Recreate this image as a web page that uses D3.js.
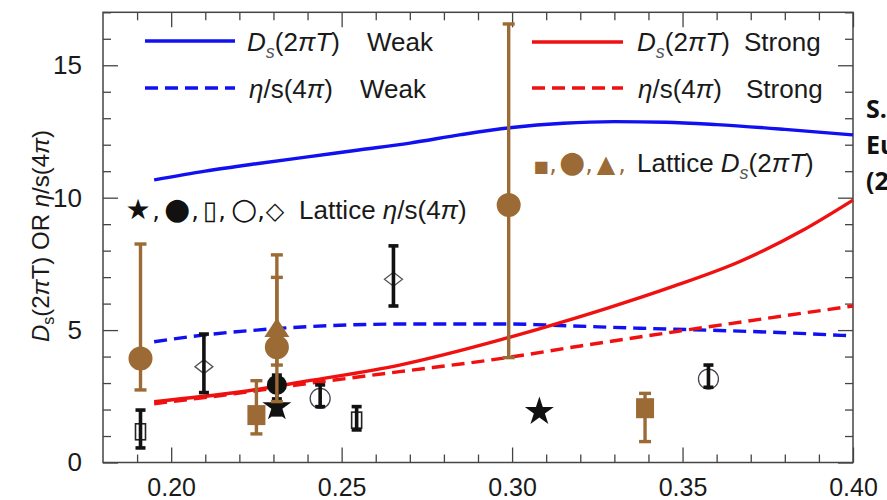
<!DOCTYPE html>
<html><head><meta charset="utf-8">
<script src="https://cdn.jsdelivr.net/npm/d3@7"></script>
<style>
body{margin:0;background:#fff}
svg{display:block}
text{font-family:"Liberation Sans",Arial,sans-serif;fill:#1a1a1a}
</style>
</head><body>
<svg id="c" width="887" height="500"></svg>
<script>
// ---------------- data ----------------
const xMajorTicks = [0.20, 0.25, 0.30, 0.35, 0.40];
const xTickLabels = ["0.20", "0.25", "0.30", "0.35", "0.40"];
const yMajorTicks = [0, 5, 10, 15];
const yTickLabels = ["0", "5", "10", "15"];

// theory curves (T in GeV)
const dsWeakT = [0.195, 0.21, 0.225, 0.24, 0.255, 0.27, 0.285, 0.30, 0.315, 0.33, 0.345, 0.36, 0.38, 0.40];
const dsWeakV = [10.67, 11.00, 11.28, 11.54, 11.80, 12.06, 12.38, 12.65, 12.81, 12.87, 12.85, 12.76, 12.58, 12.37];

const etaWeakT = [0.195, 0.21, 0.225, 0.24, 0.27, 0.30, 0.31, 0.3375, 0.357, 0.38, 0.40];
const etaWeakV = [4.56, 4.82, 5.00, 5.13, 5.23, 5.23, 5.19, 5.07, 5.00, 4.90, 4.78];

const dsStrongT = [0.195, 0.22, 0.24, 0.267, 0.2965, 0.308, 0.328, 0.347, 0.367, 0.385, 0.40];
const dsStrongV = [2.30, 2.66, 3.08, 3.68, 4.63, 5.05, 5.83, 6.64, 7.60, 8.75, 9.91];

const etaStrongT = [0.195, 0.22, 0.24, 0.267, 0.297, 0.32, 0.35, 0.375, 0.40];
const etaStrongV = [2.22, 2.62, 2.98, 3.43, 3.93, 4.40, 4.98, 5.45, 5.91];

// lattice D_s(2piT) points (brown)
const latDsT     = [0.191, 0.225, 0.231, 0.231, 0.299, 0.339];
const latDsV     = [3.93, 1.79, 5.08, 4.35, 9.72, 2.05];
const latDsLo    = [2.74, 1.08, 3.68, 2.30, 3.96, 0.79];
const latDsHi    = [8.25, 3.09, 7.84, 6.99, 16.56, 2.61];
const latDsShape = ["circle", "square", "triangle", "circle", "circle", "square"];

// lattice eta/s(4pi) points (black)
const latEtaT     = [0.191, 0.2096, 0.231, 0.231, 0.2437, 0.2544, 0.2652, 0.308, 0.3576];
const latEtaV     = [1.16, 3.62, 2.93, 2.10, 2.42, 1.60, 6.92, 1.92, 3.15];
const latEtaLo    = [0.55, 2.64, 2.20, 1.80, 2.11, 1.23, 5.91, null, 2.84];
const latEtaHi    = [1.98, 4.85, 3.30, 2.40, 2.93, 2.11, 8.18, null, 3.68];
const latEtaShape = ["rect", "diamond", "fcircle", "star", "ocircle", "rect", "diamond", "star", "ocircle"];

// ---------------- drawing ----------------
const BLUE = "#1010f0", RED = "#f01010", BROWN = "#9c6b35", INK = "#111";
const SYMFONT = '"DejaVu Sans",sans-serif';
const svg = d3.select("#c");
const L = 103, R = 853, T = 12.3, B = 462.5;
const x = d3.scaleLinear().domain([0.18, 0.40]).range([L, R]);
const y = d3.scaleLinear().domain([0, 17]).range([B, T]);

const xMinor = d3.range(0.19, 0.4001, 0.01).filter(v => !xMajorTicks.some(m => Math.abs(m - v) < 1e-6));
const yMinor = d3.range(1, 17.001, 1).filter(v => v % 5 !== 0);

function styleAxis(g) {
  g.select(".domain").remove();
  g.selectAll("line").attr("stroke", "#444").attr("stroke-width", 1.3);
}
// bottom
svg.append("g").attr("transform", `translate(0,${B})`)
  .call(d3.axisBottom(x).tickValues(xMajorTicks).tickSize(-15).tickPadding(16)
    .tickFormat((d, i) => xTickLabels[i]))
  .call(styleAxis)
  .call(g => g.selectAll("text").attr("font-size", 25).attr("dy", "0.71em"));
svg.append("g").attr("transform", `translate(0,${B})`)
  .call(d3.axisBottom(x).tickValues(xMinor).tickSize(-8).tickFormat(""))
  .call(styleAxis);
// top
svg.append("g").attr("transform", `translate(0,${T})`)
  .call(d3.axisTop(x).tickValues(xMajorTicks).tickSize(-15).tickFormat(""))
  .call(styleAxis);
svg.append("g").attr("transform", `translate(0,${T})`)
  .call(d3.axisTop(x).tickValues(xMinor).tickSize(-8).tickFormat(""))
  .call(styleAxis);
// left
svg.append("g").attr("transform", `translate(${L},0)`)
  .call(d3.axisLeft(y).tickValues(yMajorTicks).tickSize(-15).tickPadding(21)
    .tickFormat((d, i) => yTickLabels[i]))
  .call(styleAxis)
  .call(g => g.selectAll("text").attr("font-size", 26));
svg.append("g").attr("transform", `translate(${L},0)`)
  .call(d3.axisLeft(y).tickValues(yMinor).tickSize(-8).tickFormat(""))
  .call(styleAxis);
// right
svg.append("g").attr("transform", `translate(${R},0)`)
  .call(d3.axisRight(y).tickValues(yMajorTicks).tickSize(-15).tickFormat(""))
  .call(styleAxis);
svg.append("g").attr("transform", `translate(${R},0)`)
  .call(d3.axisRight(y).tickValues(yMinor).tickSize(-8).tickFormat(""))
  .call(styleAxis);

// frame
svg.append("rect").attr("x", L).attr("y", T).attr("width", R - L).attr("height", B - T)
  .attr("fill", "none").attr("stroke", "#444").attr("stroke-width", 1.5);

// curves
const line = d3.line().x(d => x(d[0])).y(d => y(d[1])).curve(d3.curveMonotoneX);
function curve(ts, vs, color, dashed) {
  svg.append("path").datum(ts.map((t, i) => [t, vs[i]]))
    .attr("d", line).attr("fill", "none").attr("stroke", color)
    .attr("stroke-width", 3.4).attr("stroke-dasharray", dashed ? "13,7" : null);
}
curve(dsWeakT, dsWeakV, BLUE, false);
curve(etaWeakT, etaWeakV, BLUE, true);
curve(dsStrongT, dsStrongV, RED, false);
curve(etaStrongT, etaStrongV, RED, true);

// error bars
function errBar(t, lo, hi, color, w, cap) {
  if (lo == null) return;
  const g = svg.append("g").attr("stroke", color).attr("stroke-width", w);
  g.append("line").attr("x1", x(t)).attr("x2", x(t)).attr("y1", y(lo)).attr("y2", y(hi));
  g.append("line").attr("x1", x(t) - cap).attr("x2", x(t) + cap).attr("y1", y(lo)).attr("y2", y(lo));
  g.append("line").attr("x1", x(t) - cap).attr("x2", x(t) + cap).attr("y1", y(hi)).attr("y2", y(hi));
}

// lattice eta/s (black) markers
latEtaT.forEach((t, i) => {
  const cx = x(t), cy = y(latEtaV[i]), s = latEtaShape[i];
  if (s === "rect") {
    svg.append("rect").attr("x", cx - 5).attr("y", cy - 8).attr("width", 10).attr("height", 16)
      .attr("fill", "#fff").attr("stroke", "#222").attr("stroke-width", 1.6);
  } else if (s === "diamond") {
    svg.append("path").attr("d", `M${cx},${cy - 7}L${cx + 9},${cy}L${cx},${cy + 7}L${cx - 9},${cy}Z`)
      .attr("fill", "#fff").attr("stroke", "#555").attr("stroke-width", 1.3);
  } else if (s === "ocircle") {
    svg.append("circle").attr("cx", cx).attr("cy", cy).attr("r", 10)
      .attr("fill", "#fff").attr("stroke", "#445").attr("stroke-width", 1.3);
  } else if (s === "fcircle") {
    svg.append("circle").attr("cx", cx).attr("cy", cy).attr("r", 10).attr("fill", INK);
  } else if (s === "star") {
    svg.append("path").attr("transform", `translate(${cx},${cy})`)
      .attr("d", d3.symbol(d3.symbolStar, 260)()).attr("fill", INK);
  }
  errBar(t, latEtaLo[i], latEtaHi[i], INK, 3.6, 5);
});

// lattice D_s (brown)
latDsT.forEach((t, i) => {
  const cx = x(t), cy = y(latDsV[i]), s = latDsShape[i];
  errBar(t, latDsLo[i], latDsHi[i], BROWN, 3.4, 6);
  if (s === "circle") {
    svg.append("circle").attr("cx", cx).attr("cy", cy).attr("r", 12).attr("fill", BROWN);
  } else if (s === "square") {
    svg.append("rect").attr("x", cx - 9).attr("y", cy - 10).attr("width", 18).attr("height", 20).attr("fill", BROWN);
  } else if (s === "triangle") {
    svg.append("path").attr("d", `M${cx},${cy - 10}L${cx + 12.5},${cy + 9}L${cx - 12.5},${cy + 9}Z`).attr("fill", BROWN);
  }
});

// ---------------- legend ----------------
const FS = 26;
function legendLine(x1, x2, yy, color, dashed) {
  svg.append("line").attr("x1", x1).attr("x2", x2).attr("y1", yy).attr("y2", yy)
    .attr("stroke", color).attr("stroke-width", 3.6).attr("stroke-dasharray", dashed ? "13,7" : null);
}
function dsParts(t) {
  t.append("tspan").attr("font-style", "italic").text("D");
  t.append("tspan").attr("font-style", "italic").attr("font-size", 18).attr("dy", 7).style("fill", "#555").text("s");
  t.append("tspan").attr("dy", -7).text("(2");
  t.append("tspan").attr("font-style", "italic").text("πT");
  t.append("tspan").text(")");
}
function etaParts(t) {
  t.append("tspan").attr("font-style", "italic").text("η");
  t.append("tspan").text("/s(4");
  t.append("tspan").attr("font-style", "italic").text("π");
  t.append("tspan").text(")");
}
function legendText(bx, by, kind, suffix, sx) {
  const t = svg.append("text").attr("x", bx).attr("y", by).attr("font-size", FS);
  if (kind === "ds") dsParts(t); else etaParts(t);
  t.append("tspan").attr("x", sx).text(suffix);
}
legendLine(145, 235, 41, BLUE, false);
legendLine(145, 235, 88, BLUE, true);
legendLine(532, 623, 42, RED, false);
legendLine(532, 623, 88, RED, true);
legendText(247, 51, "ds", "Weak", 367);
legendText(249, 98, "eta", "Weak", 360);
legendText(637, 51, "ds", "Strong", 744);
legendText(638, 98, "eta", "Strong", 746);

// lattice eta label: symbols
{
  const t = svg.append("text").attr("y", 219).attr("text-anchor", "middle")
    .style("font-family", SYMFONT).style("fill", INK).attr("font-size", 26);
  const parts = [["★", 138, 28], [",", 156, 24], ["●", 177, 30], [",", 195, 24], ["▯", 210, 26], [",", 222, 24], ["○", 244, 30], [",", 261, 24], ["◇", 275, 24]];
  parts.forEach(([s, px, fs]) => t.append("tspan").attr("x", px).attr("font-size", fs).text(s));
  const u = svg.append("text").attr("x", 299).attr("y", 219).attr("font-size", FS);
  u.append("tspan").text("Lattice ");
  etaParts(u);
}
// lattice Ds label
{
  const t = svg.append("text").attr("y", 172).attr("text-anchor", "middle")
    .style("font-family", SYMFONT).style("fill", BROWN);
  const parts = [["■", 541, 16], [",", 553, 24], ["●", 572, 30], [",", 589, 24], ["▲", 606, 24], [",", 622, 24]];
  parts.forEach(([s, px, fs]) => t.append("tspan").attr("x", px).attr("font-size", fs).text(s));
  const u = svg.append("text").attr("x", 637).attr("y", 172).attr("font-size", FS);
  u.append("tspan").text("Lattice ");
  dsParts(u);
}

// y axis title
{
  const t = svg.append("text").attr("transform", "translate(49,236) rotate(-90)")
    .attr("text-anchor", "middle").attr("font-size", 24);
  t.append("tspan").attr("font-style", "italic").text("D");
  t.append("tspan").attr("font-size", 16).attr("dy", 5).text("s");
  t.append("tspan").attr("dy", -5).text("(2");
  t.append("tspan").attr("font-style", "italic").text("π");
  t.append("tspan").text("T) OR ");
  t.append("tspan").attr("font-style", "italic").text("η");
  t.append("tspan").text("/s(4");
  t.append("tspan").attr("font-style", "italic").text("π");
  t.append("tspan").text(")");
}

// reference note, cut off at the right edge (as in the original figure)
["S.", "Eu", "(2"].forEach((s, i) => {
  svg.append("text").attr("x", 866).attr("y", 118 + i * 36).attr("font-size", 25)
    .attr("font-weight", "bold").style("font-family", '"Open Sans","Liberation Sans",sans-serif')
    .style("fill", "#111").text(s);
});
</script>
</body></html>
